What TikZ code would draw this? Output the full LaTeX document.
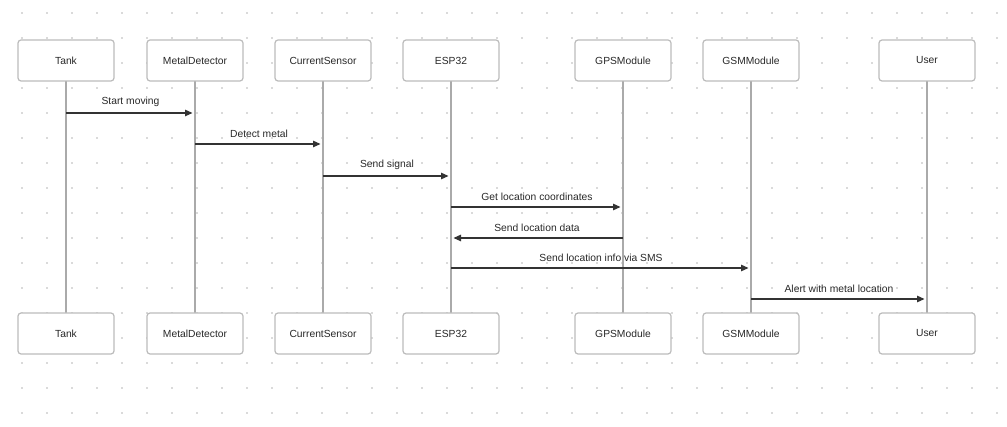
\documentclass[tikz,border=0pt]{standalone}
\usepackage{fontspec}
\setmainfont{Liberation Sans}
\usetikzlibrary{arrows.meta,positioning}
\definecolor{boxline}{RGB}{188,188,188}
\definecolor{lifeline}{RGB}{170,170,170}
\definecolor{msgline}{RGB}{51,51,51}
\definecolor{dotc}{RGB}{218,218,218}
\definecolor{txt}{RGB}{40,40,40}
\begin{document}
\begin{tikzpicture}[x=1pt,y=-1pt,
	actor/.style = {draw=boxline, line width=1.2pt, rounded corners=3pt, fill=white, minimum width=96pt, minimum height=41pt, text=txt, font=\fontsize{10.3}{12}\selectfont},
	life/.style = {draw=lifeline, line width=1.2pt},
	msg/.style = {draw=msgline, line width=1.2pt, -{Triangle[length=7.5pt,width=6.5pt]}, shorten >=2.5pt},
	lbl/.style = {above=2.5pt, midway, text=txt, font=\fontsize{10.3}{12}\selectfont}]
	\useasboundingbox (0,0) rectangle (1007,427);
	% dot grid
	\foreach \i in {0,...,39}
		\foreach \j in {0,...,16}
			\fill[dotc] (20.75+25*\i,11.75+25*\j) rectangle ++(2.5,2.5);
	% lifelines
	\coordinate (tankL) at (66,81);   \coordinate (tankE) at (66,313);
	\coordinate (detL) at (195,81);   \coordinate (detE) at (195,313);
	\coordinate (senL) at (323,81);   \coordinate (senE) at (323,313);
	\coordinate (espL) at (451,81);   \coordinate (espE) at (451,313);
	\coordinate (gpsL) at (623,81);   \coordinate (gpsE) at (623,313);
	\coordinate (gsmL) at (751,81);   \coordinate (gsmE) at (751,313);
	\coordinate (userL) at (927,81);  \coordinate (userE) at (927,313);
	\draw[life] (tankL) -- (tankE);
	\draw[life] (detL) -- (detE);
	\draw[life] (senL) -- (senE);
	\draw[life] (espL) -- (espE);
	\draw[life] (gpsL) -- (gpsE);
	\draw[life] (gsmL) -- (gsmE);
	\draw[life] (userL) -- (userE);
	% participants
	\node[actor] (tank) at (66,60.5) {Tank};
	\node[actor] (det) at (195,60.5) {MetalDetector};
	\node[actor] (sen) at (323,60.5) {CurrentSensor};
	\node[actor] (esp) at (451,60.5) {ESP32};
	\node[actor] (gps) at (623,60.5) {GPSModule};
	\node[actor] (gsm) at (751,60.5) {GSMModule};
	\node[actor] (user) at (927,60.5) {User};
	\node[actor] (tankB) at (66,333.5) {Tank};
	\node[actor] (detB) at (195,333.5) {MetalDetector};
	\node[actor] (senB) at (323,333.5) {CurrentSensor};
	\node[actor] (espB) at (451,333.5) {ESP32};
	\node[actor] (gpsB) at (623,333.5) {GPSModule};
	\node[actor] (gsmB) at (751,333.5) {GSMModule};
	\node[actor] (userB) at (927,333.5) {User};
	% messages
	\draw[msg] (tank |- 0,113) -- (det |- 0,113) node[lbl] {Start moving};
	\draw[msg] (det |- 0,144) -- (sen |- 0,144) node[lbl] {Detect metal};
	\draw[msg] (sen |- 0,176) -- (esp |- 0,176) node[lbl] {Send signal};
	\draw[msg] (esp |- 0,207) -- (gps |- 0,207) node[lbl] {Get location coordinates};
	\draw[msg] (gps |- 0,238) -- (esp |- 0,238) node[lbl] {Send location data};
	\draw[msg] (esp |- 0,268) -- (gsm |- 0,268) node[lbl] {Send location info via SMS};
	\draw[msg] (gsm |- 0,299) -- (user |- 0,299) node[lbl] {Alert with metal location};
\end{tikzpicture}
\end{document}
